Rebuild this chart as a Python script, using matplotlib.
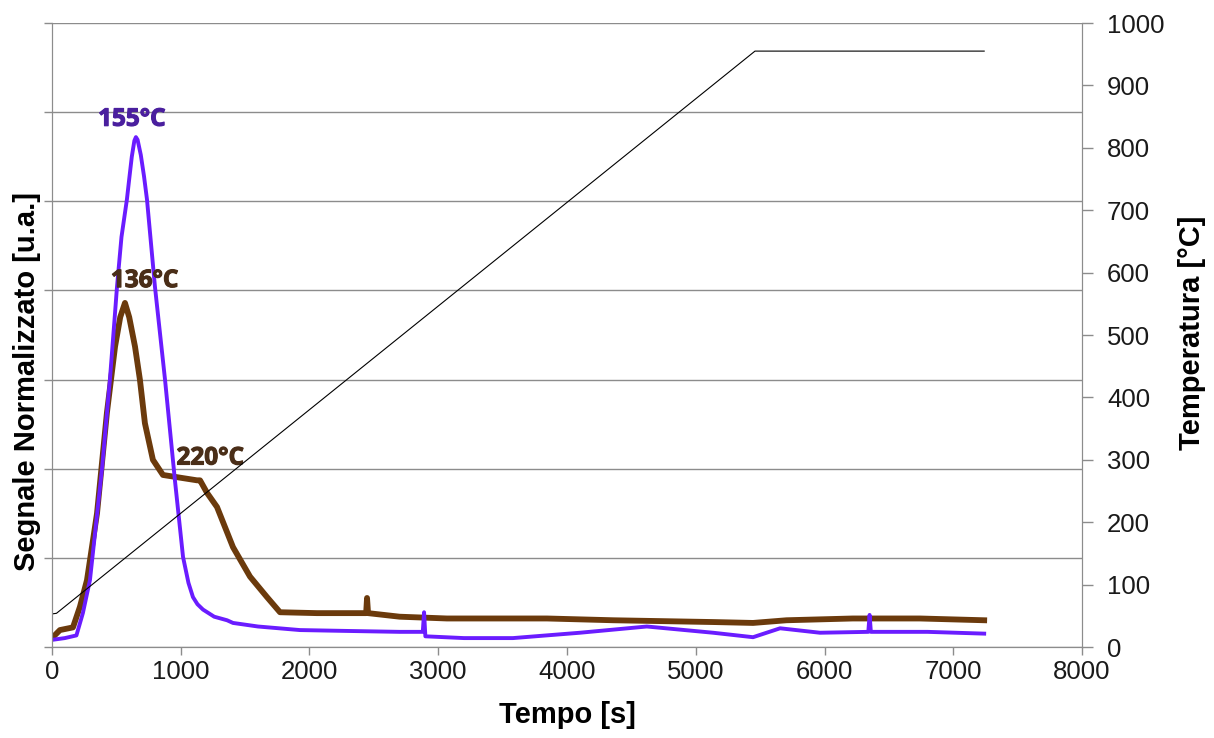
import matplotlib
matplotlib.use('Agg')
import matplotlib.pyplot as plt
import matplotlib.patheffects as pe

# signal curves (time in s, normalized signal)
purple_t = [0, 100, 190, 240, 295, 340, 390, 450, 490, 505, 540, 582, 600, 620, 640, 652, 665, 690, 715, 738,
            800, 878, 955, 1018, 1060, 1095, 1130, 1173, 1260, 1360, 1406, 1600, 1926, 2300, 2700, 2880, 2890,
            2900, 3200, 3580, 4100, 4620, 5135, 5445, 5655, 5965, 6340, 6350, 6360, 6800, 7240]
purple_v = [0.08, 0.10, 0.13, 0.38, 0.75, 1.35, 2.02, 3.0, 3.75, 4.04, 4.6, 5.02, 5.25, 5.5, 5.68, 5.72, 5.69,
            5.52, 5.28, 5.02, 4.04, 3.0, 1.87, 1.01, 0.72, 0.56, 0.48, 0.42, 0.34, 0.30, 0.27, 0.23, 0.19, 0.18,
            0.17, 0.17, 0.39, 0.12, 0.10, 0.10, 0.16, 0.23, 0.16, 0.11, 0.21, 0.16, 0.17, 0.36, 0.17, 0.17, 0.15]

brown_t = [0, 62, 163, 217, 272, 350, 427, 490, 530, 567, 600, 645, 683, 722, 784, 862, 994, 1126, 1150,
           1204, 1282, 1406, 1538, 1670, 1771, 2058, 2440, 2447, 2455, 2700, 3067, 3844, 4360, 5135, 5445,
           5705, 6220, 6740, 7240]
brown_v = [0.10, 0.19, 0.22, 0.45, 0.75, 1.5, 2.63, 3.37, 3.7, 3.86, 3.7, 3.37, 3.0, 2.51, 2.1, 1.93, 1.90,
           1.87, 1.87, 1.73, 1.57, 1.12, 0.79, 0.56, 0.39, 0.38, 0.38, 0.55, 0.38, 0.34, 0.32, 0.32, 0.30,
           0.28, 0.27, 0.30, 0.32, 0.32, 0.30]

# temperature ramp
temp_t = [0, 35, 5460, 7240]
temp_c = [53, 54, 955, 955]

# peak labels: text, time, signal
peak_labels = ['155°C', '136°C', '220°C']
peak_t = [620, 720, 1230]
peak_v = [5.78, 3.97, 1.98]
peak_colors = ['#4a1f9e', '#4a2e18', '#4a2e18']

gray = '#8c8c8c'

fig = plt.figure(figsize=(12.14, 7.38), dpi=100)
ax = fig.add_axes([0.0428, 0.1233, 0.8485, 0.8455])
ax2 = ax.twinx()

ax.plot(brown_t, brown_v, color='#6b3a0c', lw=4.2, solid_joinstyle='round')
ax.plot(purple_t, purple_v, color='#6a1cff', lw=2.8, solid_joinstyle='round')

for txt, t, v, c in zip(peak_labels, peak_t, peak_v, peak_colors):
    ax.text(t, v, txt, color=c, fontsize=17.5, fontweight='bold', family='Open Sans',
            ha='center', va='bottom',
            path_effects=[pe.withStroke(linewidth=0.8, foreground=c)])

ax.set_xlim(0, 8000)
ax.set_ylim(0, 7)
ax.set_xticks(range(0, 8001, 1000))
ax.set_yticks(range(0, 8))
ax.set_yticklabels([])
ax.grid(axis='y', color=gray, lw=1)
ax.set_axisbelow(True)

ax2.plot(temp_t, temp_c, color='black', lw=0.8)
ax2.set_ylim(0, 1000)
ax2.set_yticks(range(0, 1001, 100))

for a in (ax, ax2):
    for s in a.spines.values():
        s.set_color(gray)
    a.spines['top'].set_visible(False)
    a.tick_params(colors=gray, length=6, width=1, labelcolor='#1a1a1a', labelsize=18.5)
    for lab in a.get_xticklabels() + a.get_yticklabels():
        lab.set_family('Liberation Sans')
ax2.tick_params(axis='y', length=8, pad=10)

ax.set_xlabel('Tempo [s]', fontsize=21, fontweight='bold', family='Liberation Sans', labelpad=12)
ax.set_ylabel('Segnale Normalizzato [u.a.]', fontsize=21, fontweight='bold', family='Liberation Sans')
ax.yaxis.set_label_coords(-0.011, 0.426)
ax2.set_ylabel('Temperatura [°C]', fontsize=21, fontweight='bold', family='Liberation Sans')
ax2.yaxis.set_label_coords(1.093, 0.503)

fig.savefig('out.png', dpi=100)
